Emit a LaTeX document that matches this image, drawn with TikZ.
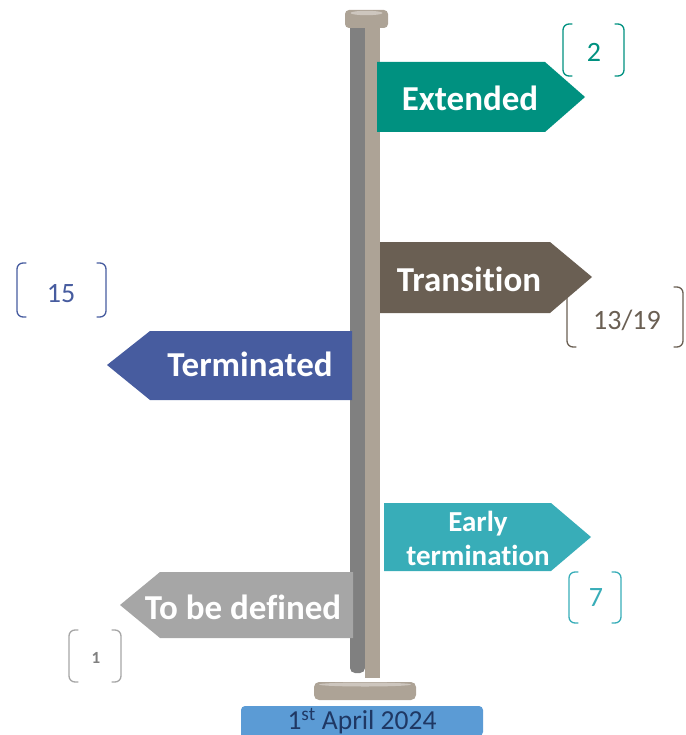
\documentclass[tikz,border=0pt]{standalone}
\usepackage{fontspec}
\setmainfont{Carlito}[Ligatures=NoCommon]
\definecolor{poledark}{RGB}{128,128,128}
\definecolor{polelight}{RGB}{173,163,150}
\definecolor{polehigh}{RGB}{205,198,190}
\definecolor{extcol}{RGB}{0,145,128}
\definecolor{transcol}{RGB}{106,95,83}
\definecolor{termcol}{RGB}{71,92,159}
\definecolor{earlycol}{RGB}{56,173,184}
\definecolor{tbdcol}{RGB}{166,166,166}
\definecolor{tbdtext}{RGB}{127,127,127}
\definecolor{datebox}{RGB}{91,155,213}
\definecolor{datetext}{RGB}{31,56,100}
\tikzset{
  signtext/.style={text=white, font=\bfseries\fontsize{35}{38}\selectfont},
  numtext/.style={font=\fontsize{28}{30}\selectfont},
  brk/.style={line width=1.3pt, rounded corners=6pt, line cap=round},
}
\begin{document}
\begin{tikzpicture}[x=1pt, y=-1pt, inner sep=0pt, outer sep=0pt]
\useasboundingbox (0,0) rectangle (685,735);
% brackets
\path[brk, draw=extcol] (572,24) -- (563,24) -- (563,76) -- (572,76);
\path[brk, draw=extcol] (615,24) -- (624,24) -- (624,76) -- (615,76);
\node[numtext, text=extcol] (nExt) at (594,52) {2};
\path[brk, draw=transcol] (576,290) -- (567,290) -- (567,347) -- (576,347);
\path[brk, draw=transcol] (674,287) -- (683,287) -- (683,347) -- (674,347);
\node[numtext, text=transcol] (nTrans) at (627,320) {13/19};
\path[brk, draw=termcol] (26,263) -- (17,263) -- (17,317) -- (26,317);
\path[brk, draw=termcol] (97,263) -- (106,263) -- (106,317) -- (97,317);
\node[numtext, text=termcol] (nTerm) at (61,294) {15};
\path[brk, draw=earlycol] (578,572) -- (569,572) -- (569,623) -- (578,623);
\path[brk, draw=earlycol] (612,572) -- (621,572) -- (621,623) -- (612,623);
\node[numtext, text=earlycol] (nEarly) at (596,598) {7};
\path[brk, draw=tbdcol] (78,630) -- (69,630) -- (69,682) -- (78,682);
\path[brk, draw=tbdcol] (112,630) -- (121,630) -- (121,682) -- (112,682);
\node[text=tbdtext, font=\bfseries\fontsize{17}{19}\selectfont] (nTbd) at (96,658) {1};
% pole
\path[fill=poledark] (350,28) -- (350,668) [rounded corners=5pt] -- (350,673) -- (365,673) [sharp corners] -- (365,28) -- cycle;
\path[fill=polelight] (365,28) rectangle (380,678);
\path[fill=polelight, rounded corners=4pt] (345,10) rectangle (388,28);
\path[fill=polehigh] (366.5,13) ellipse (16 and 2.2);
\path[fill=polelight, rounded corners=5pt] (314,682) rectangle (416,700);
\path[fill=polehigh] (365,684.5) ellipse (46 and 2);
% signs
\path[fill=extcol] (377,62) -- (545,62) -- (585,97) -- (545,132) -- (377,132) -- cycle;
\node[signtext] (ext) at (470,98) {Extended};
\path[fill=transcol] (380,242) -- (550,242) -- (592,277) -- (550,313) -- (380,313) -- cycle;
\node[signtext] (trans) at (469,279) {Transition};
\path[fill=termcol] (352,331) -- (150,331) -- (107,365) -- (150,400) -- (352,400) -- cycle;
\node[signtext] (term) at (250,364) {Terminated};
\path[fill=earlycol] (384,503) -- (551,503) -- (591,537) -- (551,571) -- (384,571) -- cycle;
\node[signtext, font=\bfseries\fontsize{29}{34}\selectfont, align=center] (early) at (478,538) {Early\\termination};
\path[fill=tbdcol] (353,572) -- (160,572) -- (120,605) -- (160,638) -- (353,638) -- cycle;
\node[signtext] (tbd) at (243,607) {To be defined};
% date
\path[fill=datebox, rounded corners=4pt] (241,736) -- (241,706) -- (483,706) -- (483,736) [sharp corners] -- cycle;
\node[text=datetext, font=\fontsize{27.5}{30}\selectfont] (date) at (362,721) {1\textsuperscript{st} April 2024};
\end{tikzpicture}
\end{document}
